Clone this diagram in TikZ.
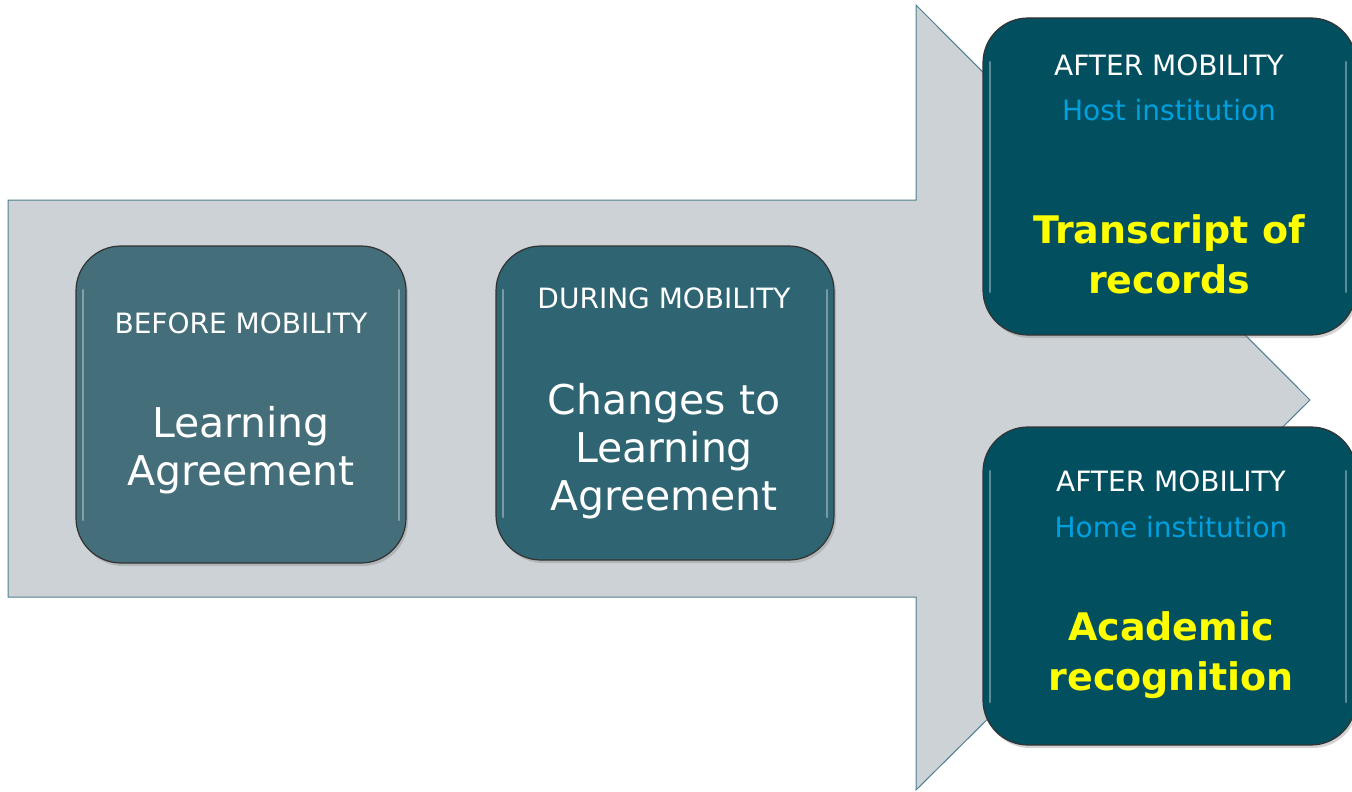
\documentclass[tikz,border=0pt]{standalone}
\usepackage{fontspec}
\setmainfont{DejaVu Sans}
\usepackage{xcolor}
\usetikzlibrary{shadows}

\definecolor{arrowgrey}{HTML}{CDD2D6}
\definecolor{arrowline}{HTML}{4E7F8E}
\definecolor{tealA}{HTML}{436E7A}
\definecolor{tealB}{HTML}{2F6472}
\definecolor{tealC}{HTML}{02505F}
\definecolor{hostblue}{HTML}{00A0E0}
\definecolor{recyellow}{HTML}{FFFF00}

\begin{document}
\begin{tikzpicture}[x=1pt,y=-1pt]
			\tikzstyle{phase} = [draw=black!80, line width=1.2pt, rounded corners=45pt, drop shadow={shadow xshift=2pt, shadow yshift=-3pt, opacity=0.35}]
			\tikzstyle{gloss} = [draw=white, line width=2.5pt, opacity=0.35, line cap=round]
			\tikzstyle{header} = [text=white, font=\fontsize{28}{32}\selectfont]
			\tikzstyle{institution} = [text=hostblue, font=\fontsize{28}{32}\selectfont]
			\tikzstyle{doc} = [text=white, align=center, font=\fontsize{41}{48}\selectfont]
			\tikzstyle{result} = [text=recyellow, align=center, font=\bfseries\fontsize{38}{50}\selectfont]

			\useasboundingbox (0,0) rectangle (1352,792);

			% big arrow in the background
			\draw[fill=arrowgrey, draw=arrowline, line width=1pt]
				(8,200) -- (916,200) -- (916,5) -- (1310,400) -- (916,790) -- (916,597) -- (8,597) -- cycle;

			% before mobility
			\filldraw[phase, fill=tealA] (76,246) rectangle (406,563);
			\draw[gloss] (83,290) -- (83,520);
			\draw[gloss] (399,290) -- (399,520);
			\node[header](before) at (241,323) {BEFORE MOBILITY};
			\node[doc](la) at (241,450) {Learning\\Agreement};

			% during mobility
			\filldraw[phase, fill=tealB] (496,246) rectangle (834,560);
			\draw[gloss] (503,290) -- (503,517);
			\draw[gloss] (827,290) -- (827,517);
			\node[header](during) at (664,298) {DURING MOBILITY};
			\node[doc](changes) at (664,451) {Changes to\\Learning\\Agreement};

			% after mobility, host
			\filldraw[phase, fill=tealC] (983,18) rectangle (1356,335);
			\draw[gloss] (990,62) -- (990,292);
			\draw[gloss] (1346,62) -- (1346,292);
			\node[header](afterhost) at (1169,65) {AFTER MOBILITY};
			\node[institution](host) at (1169,110) {Host institution};
			\node[result](tor) at (1169,254) {Transcript of\\records};

			% after mobility, home
			\filldraw[phase, fill=tealC] (983,427) rectangle (1356,745);
			\draw[gloss] (990,471) -- (990,702);
			\draw[gloss] (1346,471) -- (1346,702);
			\node[header](afterhome) at (1171,481) {AFTER MOBILITY};
			\node[institution](home) at (1171,527) {Home institution};
			\node[result](recog) at (1171,655) {Academic\\recognition};
\end{tikzpicture}
\end{document}
